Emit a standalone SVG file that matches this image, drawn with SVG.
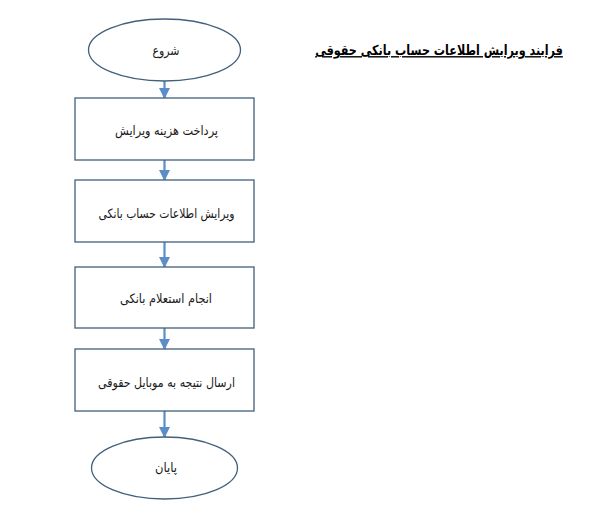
<svg xmlns="http://www.w3.org/2000/svg" width="595" height="517" viewBox="0 0 595 517">
<style>
.shape{fill:#ffffff;stroke:#41607c;stroke-width:1.3}
.lbl{font-family:"DejaVu Sans","Noto Sans",sans-serif;font-size:13px;fill:#1a1a1a;text-anchor:middle;direction:rtl}
.title{font-family:"DejaVu Sans","Noto Sans",sans-serif;font-size:14px;font-weight:bold;fill:#000;text-anchor:middle;direction:rtl;text-decoration:underline}
.conn{stroke:#5b8ec6;stroke-width:2.2;fill:none;marker-end:url(#ah)}
</style>
<defs>
<marker id="ah" viewBox="0 0 10 10" refX="9" refY="5" markerWidth="5" markerHeight="5" markerUnits="strokeWidth" orient="auto">
<path d="M0,0 L10,5 L0,10 z" fill="#5b8ec6"/>
</marker>
</defs>
<rect width="595" height="517" fill="#ffffff"/>
<g id="connectors">
<line class="conn" x1="164.5" y1="81" x2="164.5" y2="98"/>
<line class="conn" x1="164.5" y1="160" x2="164.5" y2="180"/>
<line class="conn" x1="164.5" y1="242" x2="164.5" y2="267"/>
<line class="conn" x1="164.5" y1="328" x2="164.5" y2="349"/>
<line class="conn" x1="164.5" y1="411" x2="164.5" y2="437"/>
</g>
<g id="start">
<ellipse class="shape" cx="164.5" cy="50" rx="76" ry="31"/>
<text class="lbl" x="166" y="55" textLength="27" lengthAdjust="spacingAndGlyphs">شروع</text>
</g>
<g id="step1">
<rect class="shape" x="75" y="98" width="179" height="62"/>
<text class="lbl" x="166.5" y="135" textLength="103" lengthAdjust="spacingAndGlyphs">پرداخت هزینه ویرایش</text>
</g>
<g id="step2">
<rect class="shape" x="75" y="180" width="179" height="62"/>
<text class="lbl" x="166.5" y="218" textLength="136" lengthAdjust="spacingAndGlyphs">ویرایش اطلاعات حساب بانکی</text>
</g>
<g id="step3">
<rect class="shape" x="75" y="267" width="179" height="61"/>
<text class="lbl" x="166" y="303" textLength="92" lengthAdjust="spacingAndGlyphs">انجام استعلام بانکی</text>
</g>
<g id="step4">
<rect class="shape" x="75" y="349" width="179" height="62"/>
<text class="lbl" x="166.5" y="387" textLength="137" lengthAdjust="spacingAndGlyphs">ارسال نتیجه به موبایل حقوقی</text>
</g>
<g id="end">
<ellipse class="shape" cx="164.5" cy="468" rx="73" ry="31"/>
<text class="lbl" x="166" y="472" textLength="22" lengthAdjust="spacingAndGlyphs">پایان</text>
</g>
<g id="title">
<text class="title" transform="translate(439,55) scale(0.8,1)" x="0" y="0">فرایند ویرایش اطلاعات حساب بانکی حقوقی</text>
</g>
</svg>
